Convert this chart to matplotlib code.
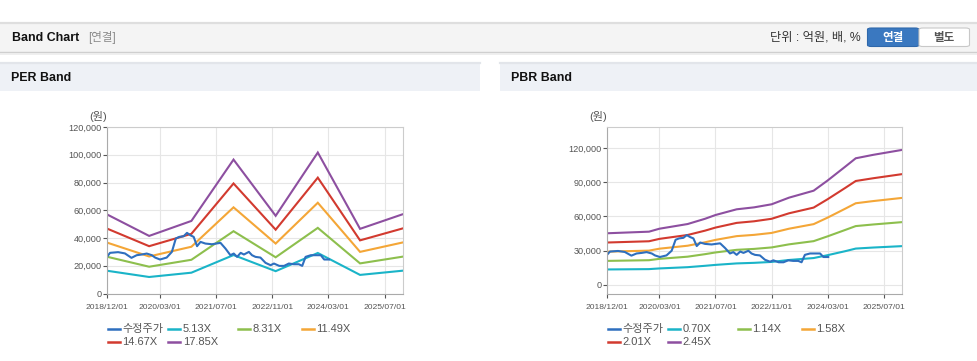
import matplotlib
matplotlib.use('Agg')
import matplotlib.pyplot as plt
from matplotlib.patches import Rectangle, FancyBboxPatch
from matplotlib.lines import Line2D
import pandas as pd

plt.rcParams['font.family'] = ['Liberation Sans', 'Noto Sans CJK KR']

W, H = 978, 361

# Adjusted share price (수정주가), same series in both panels
price_dates = [
    '2018-12-01', '2018-12-27', '2019-03-07', '2019-05-05', '2019-07-01',
    '2019-08-15', '2019-09-28', '2019-11-10', '2019-12-25', '2020-01-22',
    '2020-03-04', '2020-05-01', '2020-06-15', '2020-07-19', '2020-08-18',
    '2020-09-25', '2020-10-24', '2020-11-22', '2020-12-21', '2021-01-19',
    '2021-02-18', '2021-04-01', '2021-05-28', '2021-08-10', '2021-09-22',
    '2021-11-04', '2021-12-03', '2022-01-01', '2022-02-01', '2022-03-01',
    '2022-04-13', '2022-05-10', '2022-06-09', '2022-07-22', '2022-09-04',
    '2022-10-18', '2022-11-16', '2023-01-01', '2023-02-12', '2023-03-25',
    '2023-05-07', '2023-06-20', '2023-07-19', '2023-08-17', '2023-10-01',
    '2023-11-13', '2023-12-27', '2024-01-25', '2024-03-07',
]
price_values = [
    26400, 29300, 29800, 28900, 25700,
    27600, 28100, 28800, 27600, 25900,
    24500, 25900, 30000, 39600, 40800,
    41300, 43700, 42000, 40800, 34100,
    37200, 36000, 35500, 36500, 32400,
    27600, 28800, 26400, 29300, 28100,
    30000, 27600, 26400, 25900, 22100,
    20400, 21600, 19900, 19900, 21600,
    21100, 21100, 19900, 26400, 27600,
    27600, 27600, 24500, 24500,
]

# PER band (EPS x multiple), yearly points
per_dates = ['2018-12-01', '2019-12-01', '2020-12-01', '2021-12-01',
             '2022-12-01', '2023-12-01', '2024-12-01', '2025-12-01']
per_labels = ['5.13X', '8.31X', '11.49X', '14.67X', '17.85X']
per_513 = [16400, 11900, 15000, 27700, 16100, 29200, 13400, 16400]
per_831 = [26500, 19300, 24300, 44900, 26100, 47300, 21700, 26500]
per_1149 = [36700, 26700, 33700, 62100, 36000, 65400, 30000, 36700]
per_1467 = [46800, 34100, 43000, 79300, 46000, 83500, 38300, 46800]
per_1785 = [57000, 41500, 52300, 96500, 56000, 101600, 46600, 57000]

# PBR band (BPS x multiple)
pbr_dates = ['2018-12-01', '2019-12-01', '2020-03-01', '2020-11-01',
             '2021-04-01', '2021-07-01', '2022-01-01', '2022-06-01',
             '2022-11-01', '2023-04-01', '2023-11-01', '2024-03-01',
             '2024-08-01', '2024-11-01', '2025-04-01', '2025-12-01']
pbr_labels = ['0.70X', '1.14X', '1.58X', '2.01X', '2.45X']
pbr_070 = [13600, 13900, 14500, 15600, 16800, 17600, 18900, 19400,
           20200, 21900, 23600, 26100, 29600, 31900, 32800, 34000]
pbr_114 = [21100, 21700, 22900, 24800, 27000, 28500, 30800, 31600,
           32900, 35600, 38400, 42600, 48200, 51600, 53000, 55000]
pbr_158 = [29200, 30100, 31800, 34400, 37400, 39500, 42800, 43900,
           45600, 49300, 53300, 59000, 66800, 71600, 73500, 76200]
pbr_201 = [37200, 38300, 40400, 43800, 47600, 50300, 54400, 55800,
           58000, 62800, 67800, 75100, 85000, 91100, 93500, 97000]
pbr_245 = [45300, 46700, 49300, 53400, 58000, 61300, 66300, 68000,
           70700, 76500, 82600, 91500, 103600, 111000, 114000, 118200]

tick_dates = ['2018-12-01', '2020-03-01', '2021-07-01',
              '2022-11-01', '2024-03-01', '2025-07-01']

price_color = '#2e6fbf'
band_colors = ['#1ab4c8', '#8dbf4d', '#f4a637', '#d23a2f', '#8d4fa0']


def px(x, y):
    return x / W, 1 - y / H


def draw_panel(left, right, top, bottom, dates, bands, labels, ylim, yticks):
    ax = fig.add_axes([left / W, 1 - bottom / H, (right - left) / W, (bottom - top) / H])
    d = pd.to_datetime(dates)
    for vals, c in zip(bands, band_colors):
        ax.plot(d, vals, color=c, lw=1.5, solid_joinstyle='miter')
    ax.plot(pd.to_datetime(price_dates), price_values, color=price_color, lw=1.5)

    ax.set_xlim(pd.Timestamp('2018-12-01'), pd.Timestamp('2025-12-08'))
    ax.set_ylim(*ylim)
    ax.set_yticks(yticks)
    ax.set_yticklabels(['{:,}'.format(v) for v in yticks])
    td = pd.to_datetime(tick_dates)
    ax.set_xticks(td)
    ax.set_xticklabels([t.strftime('%Y/%m/%d') for t in td])
    ax.grid(True, color='#e6e6e6', lw=0.8)
    ax.set_axisbelow(True)
    for s in ['top', 'right']:
        ax.spines[s].set_color('#cccccc')
    for s in ['left', 'bottom']:
        ax.spines[s].set_color('#aaaaaa')
    ax.tick_params(axis='y', labelsize=6.6, colors='#555555', length=3, width=0.8, pad=1)
    ax.tick_params(axis='x', labelsize=6.1, colors='#555555', length=3, width=0.8, pad=4.5)
    for t in ax.get_xticklabels() + ax.get_yticklabels():
        t.set_color('#555555')

    # (원) unit label
    fig.text(*px(left - 9, 116), '(원)', fontsize=8, color='#555555', ha='center', va='center')

    # legend, drawn by hand to follow the web layout
    cols = [0.7, 61.3, 130.7, 194.7]
    rows = [329, 342.3]
    names = ['수정주가'] + labels
    colors = [price_color] + band_colors
    for i, (name, c) in enumerate(zip(names, colors)):
        hx = left + cols[i % 4]
        hy = rows[i // 4]
        fig.add_artist(Line2D([hx / W, (hx + 12) / W], [1 - hy / H, 1 - hy / H],
                              color=c, lw=1.8, transform=fig.transFigure))
        fig.text(*px(hx + 14.5, hy), name, fontsize=8, color='#555555', va='center')
    return ax


fig = plt.figure(figsize=(W / 100, H / 100), dpi=100)
fig.patch.set_facecolor('white')

# header bar
fig.add_artist(Rectangle(px(0, 52), 1, 30 / H, transform=fig.transFigure,
                         facecolor='#f4f4f4', edgecolor='none'))
fig.add_artist(Line2D([0, 1], [1 - 22.5 / H] * 2, color='#dedede', lw=1.6, transform=fig.transFigure))
fig.add_artist(Line2D([0, 1], [1 - 52 / H] * 2, color='#cfcfcf', lw=1.0, transform=fig.transFigure))
fig.add_artist(Line2D([0, 1], [1 - 53.5 / H] * 2, color='#ececec', lw=1.2, transform=fig.transFigure))
fig.text(*px(12, 38), 'Band Chart', fontsize=8.9, fontweight='bold', color='#111111', va='center')
fig.text(*px(88, 38), '[연결]', fontsize=8.3, color='#8a8a8a', va='center')
fig.text(*px(861, 38), '단위 : 억원, 배, %', fontsize=8.8, color='#333333', va='center', ha='right')
fig.add_artist(FancyBboxPatch(px(867.5, 46.5), 51.5 / W, 18.5 / H, boxstyle='round,pad=0,rounding_size=0.004',
                              transform=fig.transFigure, facecolor='#3a78c0', edgecolor='#2f68ab', lw=0.8))
fig.add_artist(FancyBboxPatch(px(919, 46.5), 50.5 / W, 18.5 / H, boxstyle='round,pad=0,rounding_size=0.004',
                              transform=fig.transFigure, facecolor='#ffffff', edgecolor='#c8c8c8', lw=0.8))
fig.text(*px(893, 37.5), '연결', fontsize=8.3, fontweight='bold', color='white', va='center', ha='center')
fig.text(*px(944, 37.5), '별도', fontsize=8.3, fontweight='bold', color='#555555', va='center', ha='center')

# panel title bars
for x0, x1, title in [(0, 480, 'PER Band'), (500, 978, 'PBR Band')]:
    fig.add_artist(Rectangle(px(x0, 91), (x1 - x0) / W, 29 / H, transform=fig.transFigure,
                             facecolor='#eef1f6', edgecolor='none'))
    fig.add_artist(Line2D([x0 / W, x1 / W], [1 - 62.5 / H] * 2, color='#e2e5ea', lw=1.6,
                          transform=fig.transFigure))
    fig.text(*px(x0 + 11.5, 78), title, fontsize=8.9, fontweight='bold', color='#111111', va='center')

draw_panel(107, 403, 127, 293.5, per_dates,
           [per_513, per_831, per_1149, per_1467, per_1785], per_labels,
           (0, 120000), list(range(0, 120001, 20000)))
draw_panel(607, 902, 127, 294, pbr_dates,
           [pbr_070, pbr_114, pbr_158, pbr_201, pbr_245], pbr_labels,
           (-7900, 138400), list(range(0, 120001, 30000)))

fig.savefig('out.png', dpi=100, facecolor='white')
